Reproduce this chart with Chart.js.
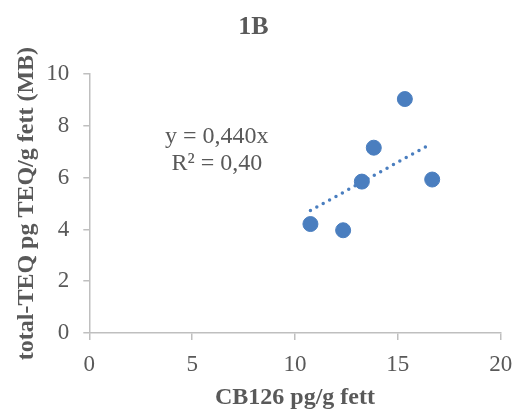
<!DOCTYPE html>
<html>
<head>
<meta charset="utf-8">
<script src="https://cdn.jsdelivr.net/npm/chart.js@4/dist/chart.umd.min.js"></script>
<style>
  html, body { margin: 0; padding: 0; background: #fff; }
  #wrap { width: 516px; height: 410px; }
</style>
</head>
<body>
<div id="wrap"><canvas id="c" width="516" height="410"></canvas></div>
<script>
// punkter lest av figuren
const cb126 = [10.75, 12.34, 13.25, 13.83, 15.34, 16.67];
const teq = [4.21, 3.97, 5.85, 7.16, 9.04, 5.93];

// trendlinje y = 0,440x
const trendX = [10.75, 16.45];
const trendY = [4.73, 7.24];

const xTicks = [0, 5, 10, 15, 20];
const yTicks = [0, 2, 4, 6, 8, 10];

const grå = '#bfbfbf';
const tekst = '#595959';
const blå = '#4a7ebf';
const serif = "'Liberation Serif', 'Times New Roman', serif";

const ligning = {
  id: 'ligning',
  afterDatasetsDraw(chart) {
    const { ctx, scales } = chart;
    const x = scales.x.getPixelForValue(6.2);
    ctx.save();
    ctx.fillStyle = tekst;
    ctx.font = '24px ' + serif;
    ctx.textAlign = 'center';
    ctx.textBaseline = 'middle';
    ctx.fillText('y = 0,440x', x, scales.y.getPixelForValue(7.58));
    ctx.fillText('R² = 0,40', x, scales.y.getPixelForValue(6.53));
    ctx.restore();
  }
};

new Chart(document.getElementById('c'), {
  type: 'scatter',
  data: {
    datasets: [
      {
        label: 'punkter',
        data: cb126.map((x, i) => ({ x, y: teq[i] })),
        backgroundColor: blå,
        borderColor: blå,
        pointRadius: 7.5,
        pointHoverRadius: 7.5,
        order: 1
      },
      {
        label: 'trend',
        type: 'line',
        data: trendX.map((x, i) => ({ x, y: trendY[i] })),
        borderColor: blå,
        borderWidth: 3.5,
        borderDash: [0, 7.3],
        borderCapStyle: 'round',
        pointRadius: 0,
        fill: false,
        order: 2
      }
    ]
  },
  options: {
    responsive: false,
    animation: false,
    layout: { padding: { left: 6, right: 15.3, bottom: 0, top: 0 } },
    plugins: {
      legend: { display: false },
      tooltip: { enabled: false },
      title: {
        display: true,
        text: '1B',
        color: tekst,
        font: { family: serif, size: 26, weight: 'bold', lineHeight: 1.2 },
        padding: { top: 12, bottom: 31 }
      }
    },
    scales: {
      x: {
        type: 'linear',
        min: 0,
        max: 20,
        afterBuildTicks: s => { s.ticks = xTicks.map(v => ({ value: v })); },
        afterFit: s => { s.height = 77; s.paddingRight = 0; s.paddingLeft = 0; },
        grid: { drawOnChartArea: false, drawTicks: true, tickLength: 7, color: grå, lineWidth: 1.5 },
        border: { color: grå, width: 1.5 },
        ticks: { color: tekst, font: { family: serif, size: 23, lineHeight: 1.0 }, padding: 13, maxRotation: 0 },
        title: {
          display: true,
          text: 'CB126 pg/g fett',
          color: tekst,
          font: { family: serif, size: 24, weight: 'bold', lineHeight: 1.0 },
          padding: { top: 2, bottom: 0 }
        }
      },
      y: {
        min: 0,
        max: 10,
        afterBuildTicks: s => { s.ticks = yTicks.map(v => ({ value: v })); },
        afterFit: s => { s.width = 83.3; },
        grid: { drawOnChartArea: false, drawTicks: true, tickLength: 6, color: grå, lineWidth: 1.5 },
        border: { color: grå, width: 1.5 },
        ticks: { color: tekst, font: { family: serif, size: 23 }, padding: 14 },
        title: {
          display: true,
          text: 'total-TEQ pg TEQ/g fett (MB)',
          color: tekst,
          font: { family: serif, size: 24, weight: 'bold', lineHeight: 1.2 },
          padding: { top: 6, bottom: 3 }
        }
      }
    }
  },
  plugins: [ligning]
});
</script>
</body>
</html>
